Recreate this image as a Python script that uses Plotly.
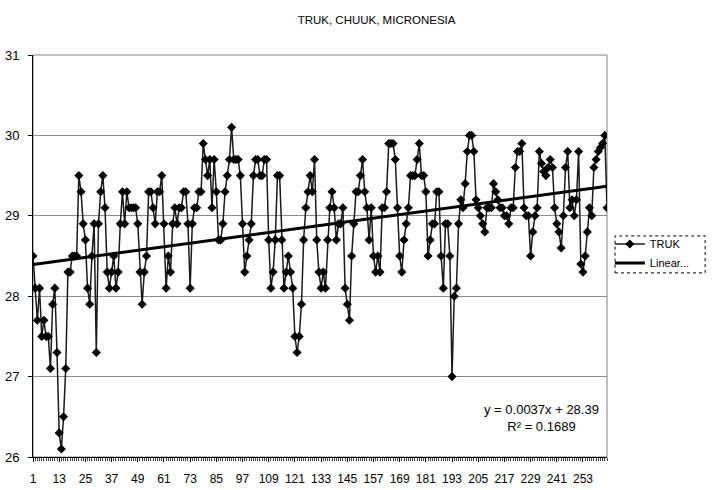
import plotly.graph_objects as go

# Monthly temperature readings, TRUK
truk_temps = [
    28.5, 28.1, 27.7, 28.1, 27.5, 27.7, 27.5, 27.5, 27.1, 27.9,
    28.1, 27.3, 26.3, 26.1, 26.5, 27.1, 28.3, 28.3, 28.5, 28.5,
    28.5, 29.5, 29.3, 28.9, 28.7, 28.1, 27.9, 28.5, 28.9, 27.3,
    28.9, 29.3, 29.5, 29.1, 28.3, 28.1, 28.3, 28.5, 28.1, 28.3,
    28.9, 29.3, 28.9, 29.3, 29.1, 29.1, 29.1, 29.1, 28.9, 28.3,
    27.9, 28.3, 28.5, 29.3, 29.3, 29.1, 28.9, 29.3, 29.3, 29.5,
    28.9, 28.1, 28.5, 28.3, 28.9, 29.1, 28.9, 29.1, 29.1, 29.3,
    29.3, 28.9, 28.1, 28.9, 29.1, 29.1, 29.3, 29.3, 29.9, 29.7,
    29.5, 29.7, 29.1, 29.7, 29.3, 28.7, 28.7, 28.9, 29.3, 29.5,
    29.7, 30.1, 29.7, 29.7, 29.7, 29.5, 28.9, 28.3, 28.5, 28.7,
    28.9, 29.5, 29.7, 29.7, 29.5, 29.5, 29.7, 29.7, 28.7, 28.1,
    28.3, 28.7, 29.5, 29.5, 28.7, 28.1, 28.3, 28.5, 28.3, 28.1,
    27.5, 27.3, 27.5, 27.9, 28.7, 29.1, 29.3, 29.5, 29.3, 29.7,
    28.7, 28.3, 28.1, 28.3, 28.1, 28.7, 29.1, 29.3, 29.1, 28.7,
    28.9, 28.9, 29.1, 28.1, 27.9, 27.7, 28.5, 28.9, 29.3, 29.3,
    29.5, 29.7, 29.3, 29.1, 28.7, 29.1, 28.5, 28.3, 28.5, 28.3,
    29.1, 29.1, 29.3, 29.9, 29.9, 29.9, 29.7, 29.1, 28.5, 28.3,
    28.7, 28.9, 29.1, 29.5, 29.5, 29.5, 29.7, 29.9, 29.5, 29.5,
    29.3, 28.5, 28.7, 28.9, 28.9, 29.3, 29.3, 28.5, 28.1, 28.9,
    28.9, 28.5, 27.0, 28.0, 28.1, 28.9, 29.2, 29.1, 29.4, 29.8,
    30.0, 30.0, 29.8, 29.2, 29.1, 29.0, 28.9, 28.8, 29.1, 29.1,
    29.1, 29.4, 29.3, 29.2, 29.1, 29.1, 29.0, 29.0, 28.9, 29.1,
    29.1, 29.6, 29.8, 29.8, 29.9, 29.1, 29.0, 29.0, 28.5, 28.8,
    29.0, 29.1, 29.8, 29.65, 29.55, 29.5, 29.6, 29.7, 29.6, 29.1,
    28.9, 28.8, 28.6, 29.0, 29.6, 29.8, 29.1, 29.2, 29.0, 29.2,
    29.8, 28.4, 28.3, 28.5, 28.8, 29.1, 29.0, 29.6, 29.7, 29.8,
    29.85, 29.9, 30.0, 29.1,
]
months = list(range(1, len(truk_temps) + 1))
x_tick_vals = list(range(1, len(truk_temps) + 1, 12))
x_tick_text = [str(v) for v in x_tick_vals]
y_tick_vals = [26, 27, 28, 29, 30, 31]

trend_slope = 0.0037
trend_intercept = 28.39
r_squared = 0.1689
trend_x = [months[0], months[-1]]
trend_y = [trend_intercept + trend_slope * v for v in trend_x]

FONT = "Liberation Sans, Arial, sans-serif"

fig = go.Figure()
fig.add_trace(go.Scatter(
    x=months, y=truk_temps, name="TRUK", mode="lines+markers",
    line=dict(color="#1a1a1a", width=1.5),
    marker=dict(symbol="diamond", size=7, color="#000000"),
))
fig.add_trace(go.Scatter(
    x=trend_x, y=trend_y, name="Linear...", mode="lines",
    line=dict(color="#000000", width=3),
))

fig.update_layout(
    width=720, height=490,
    margin=dict(l=33, r=113, t=55, b=33, autoexpand=False),
    paper_bgcolor="white", plot_bgcolor="white",
    font=dict(family=FONT, color="black", size=12),
    title=dict(text="TRUK, CHUUK, MICRONESIA", x=0.523, xanchor="center",
               y=0.959, yanchor="middle", font=dict(size=11.5, family=FONT)),
    showlegend=True,
    legend=dict(x=1.005, y=0.566, xanchor="left", yanchor="top",
                font=dict(size=11, family=FONT), bgcolor="rgba(0,0,0,0)",
                borderwidth=0, tracegroupgap=0, itemwidth=30),
    shapes=[dict(type="rect", xref="paper", yref="paper", x0=0, x1=1, y0=0, y1=1,
                 line=dict(color="#808080", width=1), layer="below"),
            dict(type="rect", xref="paper", yref="paper", x0=1.014, x1=1.171,
                 y0=0.458, y1=0.55, line=dict(color="black", width=1, dash="dot"))],
    annotations=[dict(
        text=f"y = {trend_slope}x + {trend_intercept}<br>R\u00b2 = {r_squared}",
        xref="paper", yref="paper", x=0.886, y=0.097, xanchor="center",
        yanchor="middle", showarrow=False,
        align="center", font=dict(size=13, family=FONT))],
)
fig.update_xaxes(
    range=[1, len(truk_temps)], tickmode="array", tickvals=x_tick_vals,
    ticktext=x_tick_text, tickangle=0, showgrid=False, zeroline=False,
    automargin=False, ticklabelstandoff=7,
    showline=True, linecolor="black", linewidth=1, ticks="outside", ticklen=4,
    tickcolor="black", tickfont=dict(size=12, family=FONT),
    minor=dict(dtick=1, ticks="outside", ticklen=3, tickcolor="#444", showgrid=False),
)
fig.update_yaxes(
    range=[26, 31], tickvals=y_tick_vals, showgrid=True, gridcolor="#8c8c8c",
    gridwidth=1, zeroline=False, showline=True, linecolor="black", linewidth=1,
    automargin=False, ticklabelstandoff=6,
    ticks="outside", ticklen=4, tickcolor="black", tickfont=dict(size=13, family=FONT),
)

fig.write_html("out.html", config={"displayModeBar": False},
               post_script="document.body.style.margin='0px';")
